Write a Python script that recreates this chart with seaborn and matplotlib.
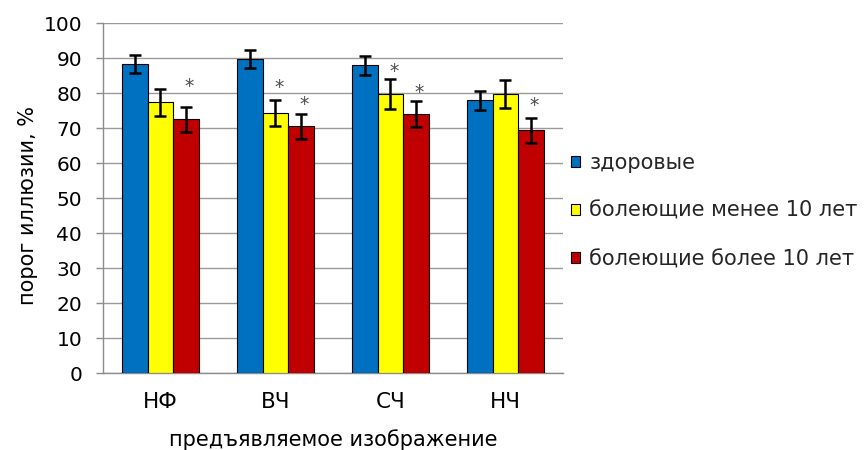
import matplotlib
matplotlib.use("Agg")
import matplotlib.pyplot as plt
import seaborn as sns
import pandas as pd

# Illusion threshold (%) by presented image, mean ± error
images = ["НФ", "ВЧ", "СЧ", "НЧ"]
groups = ["здоровые", "болеющие менее 10 лет", "болеющие более 10 лет"]
healthy = [88.3, 89.7, 88.0, 78.0]
healthy_err = [2.6, 2.6, 2.7, 2.7]
under10 = [77.4, 74.3, 79.8, 79.8]
under10_err = [3.9, 3.8, 4.2, 4.0]
over10 = [72.5, 70.6, 74.0, 69.4]
over10_err = [3.6, 3.6, 3.7, 3.6]
# significance marks per group (one flag per image)
signif = [
    [False, False, False, False],
    [False, True, True, False],
    [True, True, True, True],
]

colors = ["#0070C0", "#FFFF00", "#C00000"]
star_rise = [
    [0, 0, 0, 0],
    [0, 5.3, 4.0, 0],
    [7.5, 4.4, 4.4, 5.4],
]

errs = [healthy_err, under10_err, over10_err]
df = pd.DataFrame({
    "image": images * 3,
    "group": [g for g in groups for _ in images],
    "value": healthy + under10 + over10,
})

sns.set_theme(style="white")
plt.rcParams["font.family"] = ["DejaVu Sans"]

fig = plt.figure(figsize=(8.64, 4.5), dpi=100)
ax = fig.add_axes([0.1192, 0.1711, 0.5324, 0.7771])

sns.barplot(data=df, x="image", y="value", hue="group", order=images,
            hue_order=groups, palette=colors, saturation=1, width=0.667,
            gap=0, edgecolor="black", linewidth=0.8, errorbar=None, ax=ax,
            zorder=3)

bar_containers = list(ax.containers)
for k, cont in enumerate(bar_containers):
    for j, bar in enumerate(cont.patches):
        xc = bar.get_x() + bar.get_width() / 2
        h = bar.get_height()
        ax.errorbar(xc, h, yerr=errs[k][j], fmt="none", ecolor="black",
                    elinewidth=1.8, capsize=4.5, capthick=1.8, zorder=4)
        if signif[k][j]:
            ax.annotate("*", xy=(xc, h + errs[k][j] + star_rise[k][j]),
                        xytext=(2.5, -4.5), textcoords="offset points",
                        ha="center", va="center", fontsize=13.5,
                        color="#4A4A4A", zorder=5)

ax.set_ylim(0, 100)
ax.set_xlim(-0.5, len(images) - 0.5)
ax.set_yticks(range(0, 101, 10))
ax.yaxis.grid(True, color="#9A9A9A", linewidth=1.0, zorder=0)
ax.xaxis.grid(False)
ax.set_axisbelow(True)
for s in ["top", "right"]:
    ax.spines[s].set_visible(False)
for s in ["left", "bottom"]:
    ax.spines[s].set_color("#8C8C8C")
    ax.spines[s].set_linewidth(1.0)

ax.set_xticks([i - 0.5 for i in range(len(images) + 1)], minor=True)
ax.tick_params(axis="x", which="major", length=0, pad=14, labelsize=15.5,
               colors="black")
ax.tick_params(axis="x", which="minor", length=4, width=1, color="#8C8C8C",
               direction="out")
ax.tick_params(axis="y", which="major", left=True, length=5, width=1,
               color="#8C8C8C", pad=10, labelsize=14.5, labelcolor="black")

ax.set_xlabel("предъявляемое изображение", fontsize=15, labelpad=12,
              color="black")
ax.set_ylabel("порог иллюзии, %", fontsize=15, color="black")
ax.yaxis.set_label_coords(-0.141, 0.479)

handles, labels = ax.get_legend_handles_labels()
ax.legend(handles, labels, loc="center left",
          bbox_to_anchor=(571 / 864, 1 - 211 / 450),
          bbox_transform=fig.transFigure, frameon=False, fontsize=15,
          handlelength=0.45, handleheight=0.45, handletextpad=0.43,
          labelspacing=1.35, borderpad=0, borderaxespad=0)

fig.savefig("out.png", dpi=100)
